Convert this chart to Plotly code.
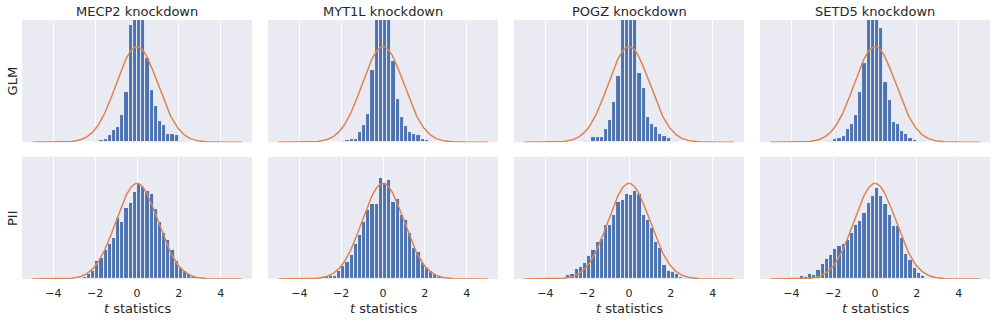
import numpy as np
import plotly.graph_objs as go
from plotly.subplots import make_subplots

genes = ["MECP2", "MYT1L", "POGZ", "SETD5"]
methods = ["GLM", "PII"]

# left edges of the histogram bins (bin width 0.2)
bin_left = [-4.4, -4.2, -4.0, -3.8, -3.6, -3.4, -3.2, -3.0, -2.8, -2.6,
            -2.4, -2.2, -2.0, -1.8, -1.6, -1.4, -1.2, -1.0, -0.8, -0.6,
            -0.4, -0.2, 0.0, 0.2, 0.4, 0.6, 0.8, 1.0, 1.2, 1.4,
            1.6, 1.8, 2.0, 2.2, 2.4, 2.6, 2.8, 3.0]

# densities (GLM centre bars are clipped at the top)
mecp2_glm = [0, 0, 0, 0, 0, 0, 0, 0, 0, 0.001,
             0.001, 0.002, 0.003, 0.010, 0.014, 0.029, 0.053, 0.064, 0.114, 0.209,
             0.490, 0.95, 1.05, 0.98, 0.353, 0.216, 0.150, 0.088, 0.072, 0.035,
             0.033, 0.031, 0.006, 0.003, 0.002, 0.001, 0, 0]
mecp2_pii = [0, 0, 0, 0, 0, 0, 0, 0.001, 0.004, 0.011,
             0.020, 0.033, 0.074, 0.089, 0.120, 0.148, 0.173, 0.255, 0.237, 0.296,
             0.316, 0.362, 0.396, 0.383, 0.370, 0.354, 0.294, 0.240, 0.191, 0.165,
             0.120, 0.075, 0.045, 0.033, 0.020, 0.008, 0.004, 0.001]

myt1l_glm = [0, 0, 0, 0, 0, 0, 0, 0, 0, 0,
             0.001, 0.002, 0.006, 0.010, 0.013, 0.013, 0.043, 0.070, 0.116, 0.300,
             0.85, 0.95, 0.92, 0.88, 0.339, 0.181, 0.107, 0.068, 0.043, 0.036,
             0.029, 0.015, 0.010, 0.003, 0.001, 0, 0, 0]
myt1l_pii = [0, 0, 0, 0, 0, 0, 0, 0.007, 0.011, 0.012,
             0.013, 0.033, 0.054, 0.072, 0.099, 0.148, 0.184, 0.240, 0.288, 0.315,
             0.315, 0.421, 0.400, 0.415, 0.321, 0.336, 0.268, 0.249, 0.191, 0.131,
             0.114, 0.068, 0.047, 0.033, 0.020, 0.010, 0.004, 0.001]

pogz_glm = [0, 0, 0, 0, 0, 0, 0, 0, 0, 0.001,
            0.002, 0.003, 0.006, 0.021, 0.021, 0.021, 0.056, 0.091, 0.169, 0.276,
            0.95, 1.05, 1.0, 0.9, 0.287, 0.227, 0.106, 0.074, 0.064, 0.035,
            0.025, 0.017, 0.007, 0.004, 0.002, 0.001, 0, 0]
pogz_pii = [0, 0, 0.003, 0.001, 0.003, 0.003, 0.007, 0.017, 0.022, 0.042,
            0.052, 0.066, 0.098, 0.120, 0.155, 0.166, 0.226, 0.226, 0.268, 0.322,
            0.331, 0.354, 0.351, 0.368, 0.357, 0.270, 0.249, 0.212, 0.156, 0.131,
            0.061, 0.036, 0.029, 0.020, 0.011, 0.006, 0.003, 0.001]

setd5_glm = [0, 0, 0, 0, 0, 0, 0, 0, 0, 0.001,
             0.003, 0.006, 0.013, 0.018, 0.025, 0.056, 0.077, 0.113, 0.208, 0.329,
             0.80, 1.0, 0.95, 0.478, 0.252, 0.176, 0.084, 0.077, 0.046, 0.036,
             0.017, 0.011, 0.006, 0.003, 0.001, 0, 0, 0]
setd5_pii = [0, 0.003, 0.004, 0.003, 0.015, 0.010, 0.022, 0.018, 0.040, 0.064,
             0.086, 0.103, 0.128, 0.139, 0.145, 0.164, 0.194, 0.226, 0.241, 0.275,
             0.318, 0.347, 0.382, 0.347, 0.315, 0.270, 0.224, 0.224, 0.173, 0.106,
             0.079, 0.045, 0.024, 0.013, 0.007, 0.004, 0.001, 0]

hists = {
    "GLM": [mecp2_glm, myt1l_glm, pogz_glm, setd5_glm],
    "PII": [mecp2_pii, myt1l_pii, pogz_pii, setd5_pii],
}

tick_vals = [-4, -2, 0, 2, 4]
tick_text = ["\u22124", "\u22122", "0", "2", "4"]

# reference N(0, 1) density
xs = np.linspace(-5, 5, 301)
norm_pdf = np.exp(-xs ** 2 / 2) / np.sqrt(2 * np.pi)

FONT = "DejaVu Sans"
TXT = "#262626"

fig = make_subplots(rows=2, cols=4, horizontal_spacing=16 / 968,
                    vertical_spacing=14.6 / 259)

for r, method in enumerate(methods, start=1):
    for c, gene in enumerate(genes, start=1):
        fig.add_trace(go.Bar(x=bin_left, y=hists[method][c - 1], width=0.2, offset=0,
                             marker=dict(color="#4C72B0", line=dict(color="white", width=0.8)),
                             showlegend=False, hoverinfo="skip"), row=r, col=c)
        fig.add_trace(go.Scatter(x=xs, y=norm_pdf, mode="lines",
                                 line=dict(color="#DD8452", width=1.5),
                                 showlegend=False, hoverinfo="skip"), row=r, col=c)
        fig.update_xaxes(range=[-5.5, 5.5], tickvals=tick_vals, ticktext=tick_text,
                         showgrid=True, gridcolor="white", gridwidth=1.1,
                         zeroline=False, showline=False,
                         ticks="outside", ticklen=4, tickcolor="rgba(0,0,0,0)",
                         showticklabels=(r == 2),
                         tickfont=dict(family=FONT, size=11, color=TXT), row=r, col=c)
        fig.update_yaxes(range=[0, 0.51], showticklabels=False, showgrid=False,
                         zeroline=False, showline=False, row=r, col=c)

annotations = []
for c, gene in enumerate(genes):
    x_mid = (c * 246 + 115) / 968
    annotations.append(dict(text=gene + " knockdown", x=x_mid, y=1, xref="paper", yref="paper",
                            xanchor="center", yanchor="middle", yshift=9, showarrow=False,
                            font=dict(family=FONT, size=13, color=TXT)))
    annotations.append(dict(text="<i>t</i> statistics", x=x_mid, y=0, xref="paper", yref="paper",
                            xanchor="center", yanchor="middle", yshift=-29, showarrow=False,
                            font=dict(family=FONT, size=13, color=TXT)))
for method, y_mid in zip(methods, [1 - 61.4 / 259, 61 / 259]):
    annotations.append(dict(text=method, x=0, y=y_mid, xref="paper", yref="paper",
                            xanchor="center", yanchor="middle", xshift=-10, textangle=-90,
                            showarrow=False, font=dict(family=FONT, size=13, color=TXT)))

fig.update_layout(width=996, height=321, margin=dict(l=22, r=6, t=20, b=42),
                  plot_bgcolor="#EAEAF2", paper_bgcolor="white", bargap=0,
                  font=dict(family=FONT, color=TXT), annotations=annotations)

# drop the default 8px body margin so the figure fills the window
fig.write_html("out.html", config={"displayModeBar": False},
               post_script="document.body.style.margin = '0';")
